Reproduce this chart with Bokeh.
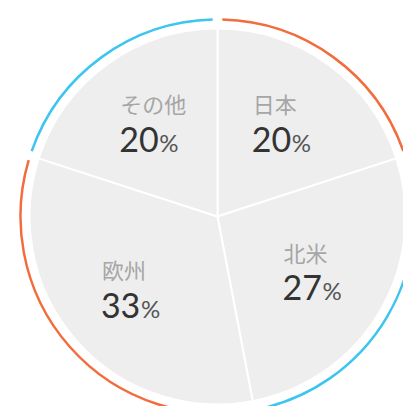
import numpy as np
from bokeh.plotting import figure
from bokeh.models import ColumnDataSource, Range1d
from bokeh.core.properties import value
from bokeh.embed import file_html
from bokeh.resources import INLINE

# ---- data ----
regions = ["日本", "北米", "欧州", "その他"]
shares = [20, 27, 33, 20]
ring_colors = ["#f26d3d", "#3cc6ef", "#f26d3d", "#3cc6ef"]

W, H = 403, 406
CX, CY = 217, 190          # pie centre (data units = px)
R_PIE, R_RING = 188, 197
GAP = np.deg2rad(1.4)

vals = np.array(shares, dtype=float)
frac = vals / vals.sum()
cum = np.concatenate([[0], np.cumsum(frac)]) * 2 * np.pi
# clockwise from 12 o'clock -> bokeh ccw angles
a_start = np.pi / 2 - cum[:-1]
a_end = np.pi / 2 - cum[1:]
mid = (a_start + a_end) / 2

RL = 0.6 * R_PIE
ax = CX + RL * np.cos(mid)
ay = CY + RL * np.sin(mid)

src = ColumnDataSource(dict(
    start=a_end, end=a_start,
    rstart=a_end + GAP, rend=a_start - GAP,
    color=ring_colors,
    ax=ax, ay=ay,
    label=regions,
    num=[str(v) for v in shares],
    pct=["%"] * len(shares),
))

p = figure(width=W, height=H, output_backend="svg", toolbar_location=None,
           x_range=Range1d(0, W), y_range=Range1d(0, H),
           min_border=0, outline_line_color=None)
p.axis.visible = False
p.grid.visible = False
p.background_fill_color = "white"
p.border_fill_color = "white"

p.wedge(x=CX, y=CY, radius=R_PIE, start_angle="start", end_angle="end",
        fill_color="#eeeeee", line_color="white", line_width=2, source=src)

p.arc(x=CX, y=CY, radius=R_RING, start_angle="rstart", end_angle="rend",
      line_color="color", line_width=2.5, source=src)

p.text(x="ax", y="ay", text="label", source=src, x_offset=-31, y_offset=-22,
       text_font=value("Noto Sans CJK JP"), text_font_size="22px",
       text_color="#a6a6a6", text_align="left", text_baseline="middle")

p.text(x="ax", y="ay", text="num", source=src, x_offset=-32, y_offset=14,
       text_font=value("Lato"), text_font_size="34px",
       text_color="#333333", text_align="left", text_baseline="middle")

p.text(x="ax", y="ay", text="pct", source=src, x_offset=8, y_offset=17,
       text_font=value("Lato"), text_font_size="24px",
       text_color="#555555", text_align="left", text_baseline="middle")

open("out.html", "w").write(file_html(p, INLINE))
